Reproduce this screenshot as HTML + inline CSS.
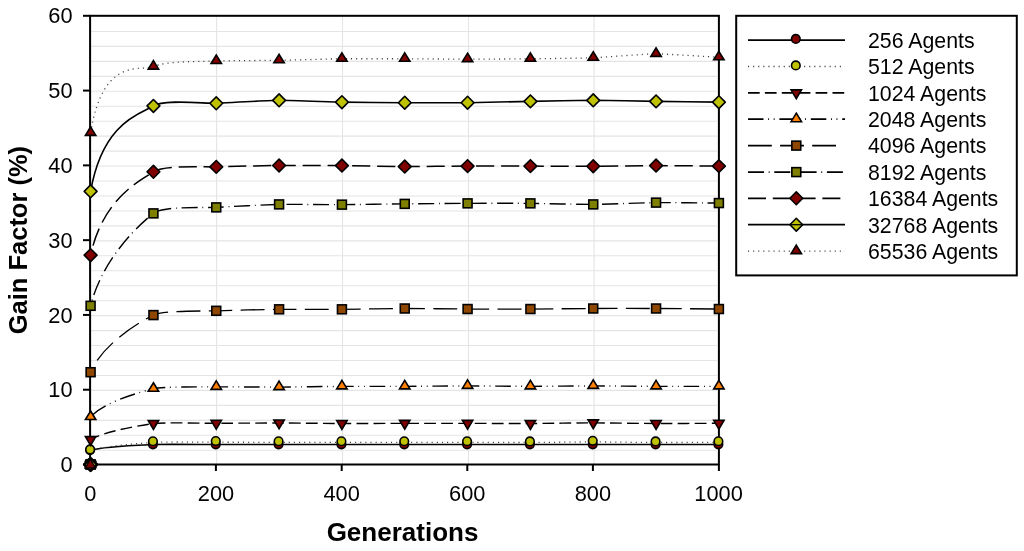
<!DOCTYPE html>
<html><head><meta charset="utf-8"><style>
html,body{margin:0;padding:0;background:#fff;width:1024px;height:551px;overflow:hidden}
svg{display:block;will-change:transform}
text{font-family:"Liberation Sans",sans-serif;fill:#000}
</style></head><body>
<svg width="1024" height="551" viewBox="0 0 1024 551">
<defs><clipPath id="pa"><rect x="90.60" y="15.80" width="628.30" height="448.70"/></clipPath></defs>

<g stroke="#e4e4e4" stroke-width="1.1"><line x1="90.6" y1="450.24" x2="717" y2="450.24"/><line x1="90.6" y1="435.29" x2="717" y2="435.29"/><line x1="90.6" y1="420.33" x2="717" y2="420.33"/><line x1="90.6" y1="405.37" x2="717" y2="405.37"/><line x1="90.6" y1="390.42" x2="717" y2="390.42"/><line x1="90.6" y1="375.46" x2="717" y2="375.46"/><line x1="90.6" y1="360.50" x2="717" y2="360.50"/><line x1="90.6" y1="345.55" x2="717" y2="345.55"/><line x1="90.6" y1="330.59" x2="717" y2="330.59"/><line x1="90.6" y1="315.63" x2="717" y2="315.63"/><line x1="90.6" y1="300.68" x2="717" y2="300.68"/><line x1="90.6" y1="285.72" x2="717" y2="285.72"/><line x1="90.6" y1="270.76" x2="717" y2="270.76"/><line x1="90.6" y1="255.81" x2="717" y2="255.81"/><line x1="90.6" y1="240.85" x2="717" y2="240.85"/><line x1="90.6" y1="225.89" x2="717" y2="225.89"/><line x1="90.6" y1="210.94" x2="717" y2="210.94"/><line x1="90.6" y1="195.98" x2="717" y2="195.98"/><line x1="90.6" y1="181.02" x2="717" y2="181.02"/><line x1="90.6" y1="166.07" x2="717" y2="166.07"/><line x1="90.6" y1="151.11" x2="717" y2="151.11"/><line x1="90.6" y1="136.15" x2="717" y2="136.15"/><line x1="90.6" y1="121.20" x2="717" y2="121.20"/><line x1="90.6" y1="106.24" x2="717" y2="106.24"/><line x1="90.6" y1="91.28" x2="717" y2="91.28"/><line x1="90.6" y1="76.33" x2="717" y2="76.33"/><line x1="90.6" y1="61.37" x2="717" y2="61.37"/><line x1="90.6" y1="46.41" x2="717" y2="46.41"/><line x1="90.6" y1="31.46" x2="717" y2="31.46"/><line x1="216.60" y1="15.8" x2="216.60" y2="464.5"/><line x1="342.50" y1="15.8" x2="342.50" y2="464.5"/><line x1="468.50" y1="15.8" x2="468.50" y2="464.5"/><line x1="594.10" y1="15.8" x2="594.10" y2="464.5"/></g>
<g clip-path="url(#pa)"><path d="M90.60,450.29 C103.17,446.30 143.38,444.99 153.43,444.53 C163.48,444.07 206.21,444.53 216.26,444.53 C226.31,444.53 269.04,444.53 279.09,444.53 C289.14,444.53 331.87,444.53 341.92,444.53 C351.97,444.53 394.70,444.53 404.75,444.53 C414.80,444.53 457.53,444.53 467.58,444.53 C477.63,444.53 520.36,444.53 530.41,444.53 C540.46,444.53 583.19,444.53 593.24,444.53 C603.29,444.53 646.02,444.53 656.07,444.53 C666.12,444.53 713.87,444.53 718.90,444.53" fill="none" stroke="#000" stroke-width="1.60"/><path d="M90.60,450.52 C103.17,446.09 143.38,443.03 153.43,442.36 C163.48,441.70 206.21,442.21 216.26,442.21 C226.31,442.21 269.04,442.35 279.09,442.36 C289.14,442.38 331.87,442.36 341.92,442.36 C351.97,442.36 394.70,442.36 404.75,442.36 C414.80,442.36 457.53,442.35 467.58,442.36 C477.63,442.38 520.36,442.55 530.41,442.51 C540.46,442.48 583.19,441.92 593.24,441.92 C603.29,441.92 646.02,442.48 656.07,442.51 C666.12,442.55 713.87,442.38 718.90,442.36" fill="none" stroke="#404040" stroke-width="1.30" stroke-dasharray="1.1 4.0"/><path d="M90.60,439.60 C103.17,431.40 143.38,424.82 153.43,423.52 C163.48,422.21 206.21,423.34 216.26,423.29 C226.31,423.25 269.04,422.98 279.09,423.00 C289.14,423.01 331.87,423.49 341.92,423.52 C351.97,423.55 394.70,423.38 404.75,423.37 C414.80,423.36 457.53,423.36 467.58,423.37 C477.63,423.38 520.36,423.56 530.41,423.52 C540.46,423.48 583.19,422.85 593.24,422.85 C603.29,422.85 646.02,423.48 656.07,423.52 C666.12,423.55 713.87,423.31 718.90,423.29" fill="none" stroke="#000" stroke-width="1.40" stroke-dasharray="11.7 5.2" stroke-dashoffset="2.03"/><path d="M90.60,417.01 C103.17,401.86 143.38,391.16 153.43,388.74 C163.48,386.33 206.21,387.01 216.26,386.87 C226.31,386.74 269.04,387.14 279.09,387.10 C289.14,387.06 331.87,386.41 341.92,386.35 C351.97,386.29 394.70,386.39 404.75,386.35 C414.80,386.32 457.53,385.90 467.58,385.90 C477.63,385.90 520.36,386.35 530.41,386.35 C540.46,386.35 583.19,385.90 593.24,385.90 C603.29,385.90 646.02,386.32 656.07,386.35 C666.12,386.39 713.87,386.35 718.90,386.35" fill="none" stroke="#000" stroke-width="1.40" stroke-dasharray="15.5 4.65 0.9 4.65 0.9 4.8" stroke-dashoffset="27.99"/><path d="M90.60,372.22 C103.17,342.33 143.38,319.99 153.43,315.08 C163.48,310.17 206.21,311.28 216.26,310.82 C226.31,310.36 269.04,309.44 279.09,309.32 C289.14,309.20 331.87,309.39 341.92,309.32 C351.97,309.26 394.70,308.53 404.75,308.50 C414.80,308.48 457.53,308.98 467.58,309.03 C477.63,309.07 520.36,309.07 530.41,309.03 C540.46,308.98 583.19,308.54 593.24,308.50 C603.29,308.46 646.02,308.46 656.07,308.50 C666.12,308.54 713.87,308.98 718.90,309.03" fill="none" stroke="#000" stroke-width="1.30" stroke-dasharray="23.8 8.3" stroke-dashoffset="18.56"/><path d="M90.60,305.81 C103.17,255.59 143.38,221.25 153.43,213.38 C163.48,205.50 206.21,208.11 216.26,207.39 C226.31,206.68 269.04,204.62 279.09,204.40 C289.14,204.18 331.87,204.67 341.92,204.63 C351.97,204.59 394.70,203.98 404.75,203.88 C414.80,203.78 457.53,203.40 467.58,203.36 C477.63,203.31 520.36,203.27 530.41,203.36 C540.46,203.44 583.19,204.46 593.24,204.40 C603.29,204.34 646.02,202.72 656.07,202.61 C666.12,202.50 713.87,203.02 718.90,203.06" fill="none" stroke="#000" stroke-width="1.40" stroke-dasharray="16 4.7 0.9 4.7" stroke-dashoffset="15.21"/><path d="M90.60,255.18 C103.17,196.64 143.38,178.86 153.43,171.80 C163.48,164.73 206.21,167.36 216.26,166.86 C226.31,166.36 269.04,165.62 279.09,165.52 C289.14,165.41 331.87,165.51 341.92,165.59 C351.97,165.67 394.70,166.52 404.75,166.56 C414.80,166.61 457.53,166.15 467.58,166.11 C477.63,166.08 520.36,166.10 530.41,166.11 C540.46,166.13 583.19,166.31 593.24,166.26 C603.29,166.22 646.02,165.60 656.07,165.59 C666.12,165.58 713.87,166.07 718.90,166.11" fill="none" stroke="#000" stroke-width="1.50" stroke-dasharray="18 6.8" stroke-dashoffset="14.94"/><path d="M90.60,191.32 C103.17,119.60 143.38,112.96 153.43,105.91 C163.48,98.87 206.21,103.75 216.26,103.30 C226.31,102.85 269.04,100.39 279.09,100.31 C289.14,100.22 331.87,101.98 341.92,102.17 C351.97,102.37 394.70,102.66 404.75,102.70 C414.80,102.74 457.53,102.81 467.58,102.70 C477.63,102.59 520.36,101.54 530.41,101.35 C540.46,101.16 583.19,100.31 593.24,100.31 C603.29,100.31 646.02,101.20 656.07,101.35 C666.12,101.50 713.87,102.11 718.90,102.17" fill="none" stroke="#000" stroke-width="1.60"/><path d="M90.60,132.84 C103.17,53.27 143.38,72.40 153.43,66.65 C163.48,60.91 206.21,61.55 216.26,61.04 C226.31,60.54 269.04,60.48 279.09,60.30 C289.14,60.12 331.87,58.92 341.92,58.80 C351.97,58.68 394.70,58.77 404.75,58.80 C414.80,58.83 457.53,59.17 467.58,59.17 C477.63,59.17 520.36,58.91 530.41,58.80 C540.46,58.69 583.19,58.15 593.24,57.75 C603.29,57.36 646.02,53.90 656.07,53.86 C666.12,53.83 713.87,57.03 718.90,57.30" fill="none" stroke="#404040" stroke-width="1.30" stroke-dasharray="1.1 4.0"/></g>
<g stroke="#000" stroke-width="2" fill="none">
<rect x="90.10" y="15.80" width="628.80" height="448.70"/>
<line x1="83" y1="464.50" x2="90.10" y2="464.50"/>
<line x1="83" y1="389.72" x2="90.10" y2="389.72"/>
<line x1="83" y1="314.93" x2="90.10" y2="314.93"/>
<line x1="83" y1="240.15" x2="90.10" y2="240.15"/>
<line x1="83" y1="165.37" x2="90.10" y2="165.37"/>
<line x1="83" y1="90.58" x2="90.10" y2="90.58"/>
<line x1="83" y1="15.80" x2="90.10" y2="15.80"/>
<line x1="90.10" y1="464.50" x2="90.10" y2="471"/>
<line x1="215.90" y1="464.50" x2="215.90" y2="471"/>
<line x1="341.70" y1="464.50" x2="341.70" y2="471"/>
<line x1="467.30" y1="464.50" x2="467.30" y2="471"/>
<line x1="592.90" y1="464.50" x2="592.90" y2="471"/>
<line x1="718.90" y1="464.50" x2="718.90" y2="471"/>
</g>
<circle cx="90.10" cy="463.40" r="4.3" fill="#800000" stroke="#000" stroke-width="1.60"/><circle cx="90.10" cy="463.40" r="4.3" fill="#bec200" stroke="#000" stroke-width="1.60"/><path d="M85.40,461.50L95.80,461.50L90.60,470.30Z" fill="#800000" stroke="#000" stroke-width="1.60"/><path d="M90.60,458.50L95.80,467.00L85.40,467.00Z" fill="#ff8000" stroke="#000" stroke-width="1.60"/><rect x="86.15" y="460.05" width="8.90" height="8.90" fill="#8f4700" stroke="#000" stroke-width="1.60"/><rect x="86.15" y="460.05" width="8.90" height="8.90" fill="#808000" stroke="#000" stroke-width="1.60"/><path d="M90.60,458.10L97.00,464.50L90.60,470.90L84.20,464.50Z" fill="#800000" stroke="#000" stroke-width="1.60" stroke-linejoin="round"/><path d="M90.60,458.10L97.00,464.50L90.60,470.90L84.20,464.50Z" fill="#bec200" stroke="#000" stroke-width="2.6" stroke-linejoin="round"/><path d="M90.30,459.50L95.50,468.00L85.10,468.00Z" fill="#800000" stroke="#000" stroke-width="1.3"/><circle cx="90.10" cy="450.09" r="4.3" fill="#800000" stroke="#000" stroke-width="1.60"/><circle cx="152.93" cy="444.33" r="4.3" fill="#800000" stroke="#000" stroke-width="1.60"/><circle cx="215.76" cy="444.33" r="4.3" fill="#800000" stroke="#000" stroke-width="1.60"/><circle cx="278.59" cy="444.33" r="4.3" fill="#800000" stroke="#000" stroke-width="1.60"/><circle cx="341.42" cy="444.33" r="4.3" fill="#800000" stroke="#000" stroke-width="1.60"/><circle cx="404.25" cy="444.33" r="4.3" fill="#800000" stroke="#000" stroke-width="1.60"/><circle cx="467.08" cy="444.33" r="4.3" fill="#800000" stroke="#000" stroke-width="1.60"/><circle cx="529.91" cy="444.33" r="4.3" fill="#800000" stroke="#000" stroke-width="1.60"/><circle cx="592.74" cy="444.33" r="4.3" fill="#800000" stroke="#000" stroke-width="1.60"/><circle cx="655.57" cy="444.33" r="4.3" fill="#800000" stroke="#000" stroke-width="1.60"/><circle cx="718.40" cy="444.33" r="4.3" fill="#800000" stroke="#000" stroke-width="1.60"/><circle cx="90.10" cy="449.42" r="4.3" fill="#bec200" stroke="#000" stroke-width="1.60"/><circle cx="152.93" cy="441.26" r="4.3" fill="#bec200" stroke="#000" stroke-width="1.60"/><circle cx="215.76" cy="441.11" r="4.3" fill="#bec200" stroke="#000" stroke-width="1.60"/><circle cx="278.59" cy="441.26" r="4.3" fill="#bec200" stroke="#000" stroke-width="1.60"/><circle cx="341.42" cy="441.26" r="4.3" fill="#bec200" stroke="#000" stroke-width="1.60"/><circle cx="404.25" cy="441.26" r="4.3" fill="#bec200" stroke="#000" stroke-width="1.60"/><circle cx="467.08" cy="441.26" r="4.3" fill="#bec200" stroke="#000" stroke-width="1.60"/><circle cx="529.91" cy="441.41" r="4.3" fill="#bec200" stroke="#000" stroke-width="1.60"/><circle cx="592.74" cy="440.82" r="4.3" fill="#bec200" stroke="#000" stroke-width="1.60"/><circle cx="655.57" cy="441.41" r="4.3" fill="#bec200" stroke="#000" stroke-width="1.60"/><circle cx="718.40" cy="441.26" r="4.3" fill="#bec200" stroke="#000" stroke-width="1.60"/><path d="M85.40,436.60L95.80,436.60L90.60,445.40Z" fill="#800000" stroke="#000" stroke-width="1.60"/><path d="M148.23,420.52L158.63,420.52L153.43,429.32Z" fill="#800000" stroke="#000" stroke-width="1.60"/><path d="M211.06,420.29L221.46,420.29L216.26,429.09Z" fill="#800000" stroke="#000" stroke-width="1.60"/><path d="M273.89,420.00L284.29,420.00L279.09,428.80Z" fill="#800000" stroke="#000" stroke-width="1.60"/><path d="M336.72,420.52L347.12,420.52L341.92,429.32Z" fill="#800000" stroke="#000" stroke-width="1.60"/><path d="M399.55,420.37L409.95,420.37L404.75,429.17Z" fill="#800000" stroke="#000" stroke-width="1.60"/><path d="M462.38,420.37L472.78,420.37L467.58,429.17Z" fill="#800000" stroke="#000" stroke-width="1.60"/><path d="M525.21,420.52L535.61,420.52L530.41,429.32Z" fill="#800000" stroke="#000" stroke-width="1.60"/><path d="M588.04,419.85L598.44,419.85L593.24,428.65Z" fill="#800000" stroke="#000" stroke-width="1.60"/><path d="M650.87,420.52L661.27,420.52L656.07,429.32Z" fill="#800000" stroke="#000" stroke-width="1.60"/><path d="M713.70,420.29L724.10,420.29L718.90,429.09Z" fill="#800000" stroke="#000" stroke-width="1.60"/><path d="M90.60,411.01L95.80,419.51L85.40,419.51Z" fill="#ff8000" stroke="#000" stroke-width="1.60"/><path d="M153.43,382.74L158.63,391.24L148.23,391.24Z" fill="#ff8000" stroke="#000" stroke-width="1.60"/><path d="M216.26,380.87L221.46,389.37L211.06,389.37Z" fill="#ff8000" stroke="#000" stroke-width="1.60"/><path d="M279.09,381.10L284.29,389.60L273.89,389.60Z" fill="#ff8000" stroke="#000" stroke-width="1.60"/><path d="M341.92,380.35L347.12,388.85L336.72,388.85Z" fill="#ff8000" stroke="#000" stroke-width="1.60"/><path d="M404.75,380.35L409.95,388.85L399.55,388.85Z" fill="#ff8000" stroke="#000" stroke-width="1.60"/><path d="M467.58,379.90L472.78,388.40L462.38,388.40Z" fill="#ff8000" stroke="#000" stroke-width="1.60"/><path d="M530.41,380.35L535.61,388.85L525.21,388.85Z" fill="#ff8000" stroke="#000" stroke-width="1.60"/><path d="M593.24,379.90L598.44,388.40L588.04,388.40Z" fill="#ff8000" stroke="#000" stroke-width="1.60"/><path d="M656.07,380.35L661.27,388.85L650.87,388.85Z" fill="#ff8000" stroke="#000" stroke-width="1.60"/><path d="M718.90,380.35L724.10,388.85L713.70,388.85Z" fill="#ff8000" stroke="#000" stroke-width="1.60"/><rect x="86.15" y="367.77" width="8.90" height="8.90" fill="#8f4700" stroke="#000" stroke-width="1.60"/><rect x="148.98" y="310.63" width="8.90" height="8.90" fill="#8f4700" stroke="#000" stroke-width="1.60"/><rect x="211.81" y="306.37" width="8.90" height="8.90" fill="#8f4700" stroke="#000" stroke-width="1.60"/><rect x="274.64" y="304.87" width="8.90" height="8.90" fill="#8f4700" stroke="#000" stroke-width="1.60"/><rect x="337.47" y="304.87" width="8.90" height="8.90" fill="#8f4700" stroke="#000" stroke-width="1.60"/><rect x="400.30" y="304.05" width="8.90" height="8.90" fill="#8f4700" stroke="#000" stroke-width="1.60"/><rect x="463.13" y="304.58" width="8.90" height="8.90" fill="#8f4700" stroke="#000" stroke-width="1.60"/><rect x="525.96" y="304.58" width="8.90" height="8.90" fill="#8f4700" stroke="#000" stroke-width="1.60"/><rect x="588.79" y="304.05" width="8.90" height="8.90" fill="#8f4700" stroke="#000" stroke-width="1.60"/><rect x="651.62" y="304.05" width="8.90" height="8.90" fill="#8f4700" stroke="#000" stroke-width="1.60"/><rect x="714.45" y="304.58" width="8.90" height="8.90" fill="#8f4700" stroke="#000" stroke-width="1.60"/><rect x="86.15" y="301.36" width="8.90" height="8.90" fill="#808000" stroke="#000" stroke-width="1.60"/><rect x="148.98" y="208.93" width="8.90" height="8.90" fill="#808000" stroke="#000" stroke-width="1.60"/><rect x="211.81" y="202.94" width="8.90" height="8.90" fill="#808000" stroke="#000" stroke-width="1.60"/><rect x="274.64" y="199.95" width="8.90" height="8.90" fill="#808000" stroke="#000" stroke-width="1.60"/><rect x="337.47" y="200.18" width="8.90" height="8.90" fill="#808000" stroke="#000" stroke-width="1.60"/><rect x="400.30" y="199.43" width="8.90" height="8.90" fill="#808000" stroke="#000" stroke-width="1.60"/><rect x="463.13" y="198.91" width="8.90" height="8.90" fill="#808000" stroke="#000" stroke-width="1.60"/><rect x="525.96" y="198.91" width="8.90" height="8.90" fill="#808000" stroke="#000" stroke-width="1.60"/><rect x="588.79" y="199.95" width="8.90" height="8.90" fill="#808000" stroke="#000" stroke-width="1.60"/><rect x="651.62" y="198.16" width="8.90" height="8.90" fill="#808000" stroke="#000" stroke-width="1.60"/><rect x="714.45" y="198.61" width="8.90" height="8.90" fill="#808000" stroke="#000" stroke-width="1.60"/><path d="M90.60,248.78L97.00,255.18L90.60,261.58L84.20,255.18Z" fill="#800000" stroke="#000" stroke-width="1.60" stroke-linejoin="round"/><path d="M153.43,165.40L159.83,171.80L153.43,178.20L147.03,171.80Z" fill="#800000" stroke="#000" stroke-width="1.60" stroke-linejoin="round"/><path d="M216.26,160.46L222.66,166.86L216.26,173.26L209.86,166.86Z" fill="#800000" stroke="#000" stroke-width="1.60" stroke-linejoin="round"/><path d="M279.09,159.12L285.49,165.52L279.09,171.92L272.69,165.52Z" fill="#800000" stroke="#000" stroke-width="1.60" stroke-linejoin="round"/><path d="M341.92,159.19L348.32,165.59L341.92,171.99L335.52,165.59Z" fill="#800000" stroke="#000" stroke-width="1.60" stroke-linejoin="round"/><path d="M404.75,160.16L411.15,166.56L404.75,172.96L398.35,166.56Z" fill="#800000" stroke="#000" stroke-width="1.60" stroke-linejoin="round"/><path d="M467.58,159.71L473.98,166.11L467.58,172.51L461.18,166.11Z" fill="#800000" stroke="#000" stroke-width="1.60" stroke-linejoin="round"/><path d="M530.41,159.71L536.81,166.11L530.41,172.51L524.01,166.11Z" fill="#800000" stroke="#000" stroke-width="1.60" stroke-linejoin="round"/><path d="M593.24,159.86L599.64,166.26L593.24,172.66L586.84,166.26Z" fill="#800000" stroke="#000" stroke-width="1.60" stroke-linejoin="round"/><path d="M656.07,159.19L662.47,165.59L656.07,171.99L649.67,165.59Z" fill="#800000" stroke="#000" stroke-width="1.60" stroke-linejoin="round"/><path d="M718.90,159.71L725.30,166.11L718.90,172.51L712.50,166.11Z" fill="#800000" stroke="#000" stroke-width="1.60" stroke-linejoin="round"/><path d="M90.60,184.92L97.00,191.32L90.60,197.72L84.20,191.32Z" fill="#bec200" stroke="#000" stroke-width="1.60" stroke-linejoin="round"/><path d="M153.43,99.51L159.83,105.91L153.43,112.31L147.03,105.91Z" fill="#bec200" stroke="#000" stroke-width="1.60" stroke-linejoin="round"/><path d="M216.26,96.90L222.66,103.30L216.26,109.70L209.86,103.30Z" fill="#bec200" stroke="#000" stroke-width="1.60" stroke-linejoin="round"/><path d="M279.09,93.91L285.49,100.31L279.09,106.71L272.69,100.31Z" fill="#bec200" stroke="#000" stroke-width="1.60" stroke-linejoin="round"/><path d="M341.92,95.77L348.32,102.17L341.92,108.57L335.52,102.17Z" fill="#bec200" stroke="#000" stroke-width="1.60" stroke-linejoin="round"/><path d="M404.75,96.30L411.15,102.70L404.75,109.10L398.35,102.70Z" fill="#bec200" stroke="#000" stroke-width="1.60" stroke-linejoin="round"/><path d="M467.58,96.30L473.98,102.70L467.58,109.10L461.18,102.70Z" fill="#bec200" stroke="#000" stroke-width="1.60" stroke-linejoin="round"/><path d="M530.41,94.95L536.81,101.35L530.41,107.75L524.01,101.35Z" fill="#bec200" stroke="#000" stroke-width="1.60" stroke-linejoin="round"/><path d="M593.24,93.91L599.64,100.31L593.24,106.71L586.84,100.31Z" fill="#bec200" stroke="#000" stroke-width="1.60" stroke-linejoin="round"/><path d="M656.07,94.95L662.47,101.35L656.07,107.75L649.67,101.35Z" fill="#bec200" stroke="#000" stroke-width="1.60" stroke-linejoin="round"/><path d="M718.90,95.77L725.30,102.17L718.90,108.57L712.50,102.17Z" fill="#bec200" stroke="#000" stroke-width="1.60" stroke-linejoin="round"/><path d="M90.60,126.84L95.80,135.34L85.40,135.34Z" fill="#800000" stroke="#000" stroke-width="1.60"/><path d="M153.43,60.65L158.63,69.15L148.23,69.15Z" fill="#800000" stroke="#000" stroke-width="1.60"/><path d="M216.26,55.04L221.46,63.54L211.06,63.54Z" fill="#800000" stroke="#000" stroke-width="1.60"/><path d="M279.09,54.30L284.29,62.80L273.89,62.80Z" fill="#800000" stroke="#000" stroke-width="1.60"/><path d="M341.92,52.80L347.12,61.30L336.72,61.30Z" fill="#800000" stroke="#000" stroke-width="1.60"/><path d="M404.75,52.80L409.95,61.30L399.55,61.30Z" fill="#800000" stroke="#000" stroke-width="1.60"/><path d="M467.58,53.17L472.78,61.67L462.38,61.67Z" fill="#800000" stroke="#000" stroke-width="1.60"/><path d="M530.41,52.80L535.61,61.30L525.21,61.30Z" fill="#800000" stroke="#000" stroke-width="1.60"/><path d="M593.24,51.75L598.44,60.25L588.04,60.25Z" fill="#800000" stroke="#000" stroke-width="1.60"/><path d="M656.07,47.86L661.27,56.36L650.87,56.36Z" fill="#800000" stroke="#000" stroke-width="1.60"/><path d="M718.90,51.30L724.10,59.80L713.70,59.80Z" fill="#800000" stroke="#000" stroke-width="1.60"/>
<text x="72.6" y="472.10" text-anchor="end" font-size="21.8">0</text><text x="72.6" y="397.32" text-anchor="end" font-size="21.8">10</text><text x="72.6" y="322.53" text-anchor="end" font-size="21.8">20</text><text x="72.6" y="247.75" text-anchor="end" font-size="21.8">30</text><text x="72.6" y="172.97" text-anchor="end" font-size="21.8">40</text><text x="72.6" y="98.18" text-anchor="end" font-size="21.8">50</text><text x="72.6" y="23.40" text-anchor="end" font-size="21.8">60</text><text x="90.30" y="500.9" text-anchor="middle" font-size="21.8">0</text><text x="215.96" y="500.9" text-anchor="middle" font-size="21.8">200</text><text x="341.62" y="500.9" text-anchor="middle" font-size="21.8">400</text><text x="467.28" y="500.9" text-anchor="middle" font-size="21.8">600</text><text x="592.94" y="500.9" text-anchor="middle" font-size="21.8">800</text><text x="718.60" y="500.9" text-anchor="middle" font-size="21.8">1000</text>
<text x="402.5" y="540.5" text-anchor="middle" font-size="26" font-weight="bold">Generations</text>
<text transform="translate(26.9,240.1) rotate(-90) scale(0.962,1)" text-anchor="middle" font-size="26.5" font-weight="bold">Gain Factor (%)</text>
<rect x="736.2" y="15.8" width="280.6" height="259.6" fill="#fff" stroke="#000" stroke-width="2"/>
<line x1="748" y1="40.00" x2="845" y2="40.00" fill="none" stroke="#000" stroke-width="1.75"/><circle cx="795.80" cy="38.90" r="4.3" fill="#800000" stroke="#000" stroke-width="1.60"/><text x="868" y="47.80" font-size="21.3">256 Agents</text><line x1="748" y1="66.50" x2="845" y2="66.50" fill="none" stroke="#404040" stroke-width="1.30" stroke-dasharray="1.1 4.0"/><circle cx="795.80" cy="65.40" r="4.3" fill="#bec200" stroke="#000" stroke-width="1.60"/><text x="868" y="74.30" font-size="21.3">512 Agents</text><line x1="748" y1="92.90" x2="845" y2="92.90" fill="none" stroke="#000" stroke-width="1.75" stroke-dasharray="11.7 5.2"/><path d="M791.10,89.90L801.50,89.90L796.30,98.70Z" fill="#800000" stroke="#000" stroke-width="1.60"/><text x="868" y="100.70" font-size="21.3">1024 Agents</text><line x1="748" y1="119.20" x2="845" y2="119.20" fill="none" stroke="#000" stroke-width="1.75" stroke-dasharray="15.5 4.65 0.9 4.65 0.9 4.8"/><path d="M796.30,113.20L801.50,121.70L791.10,121.70Z" fill="#ff8000" stroke="#000" stroke-width="1.60"/><text x="868" y="127.00" font-size="21.3">2048 Agents</text><line x1="748" y1="145.60" x2="844" y2="145.60" fill="none" stroke="#000" stroke-width="1.75" stroke-dasharray="23.8 8.3"/><rect x="791.85" y="141.15" width="8.90" height="8.90" fill="#8f4700" stroke="#000" stroke-width="1.60"/><text x="868" y="153.40" font-size="21.3">4096 Agents</text><line x1="748" y1="172.10" x2="845" y2="172.10" fill="none" stroke="#000" stroke-width="1.75" stroke-dasharray="16 4.7 0.9 4.7"/><rect x="791.85" y="167.65" width="8.90" height="8.90" fill="#808000" stroke="#000" stroke-width="1.60"/><text x="868" y="179.90" font-size="21.3">8192 Agents</text><line x1="748" y1="198.30" x2="845" y2="198.30" fill="none" stroke="#000" stroke-width="1.75" stroke-dasharray="18 6.8"/><path d="M796.30,191.90L802.70,198.30L796.30,204.70L789.90,198.30Z" fill="#800000" stroke="#000" stroke-width="1.60" stroke-linejoin="round"/><text x="868" y="206.10" font-size="21.3">16384 Agents</text><line x1="748" y1="224.70" x2="845" y2="224.70" fill="none" stroke="#000" stroke-width="1.75"/><path d="M796.30,218.30L802.70,224.70L796.30,231.10L789.90,224.70Z" fill="#bec200" stroke="#000" stroke-width="1.60" stroke-linejoin="round"/><line x1="790" y1="224.70" x2="803" y2="224.70" stroke="#000" stroke-width="1.3"/><text x="868" y="232.50" font-size="21.3">32768 Agents</text><line x1="748" y1="251.10" x2="845" y2="251.10" fill="none" stroke="#404040" stroke-width="1.30" stroke-dasharray="1.1 4.0"/><path d="M796.30,245.10L801.50,253.60L791.10,253.60Z" fill="#800000" stroke="#000" stroke-width="1.60"/><text x="868" y="258.90" font-size="21.3">65536 Agents</text>
</svg></body></html>
